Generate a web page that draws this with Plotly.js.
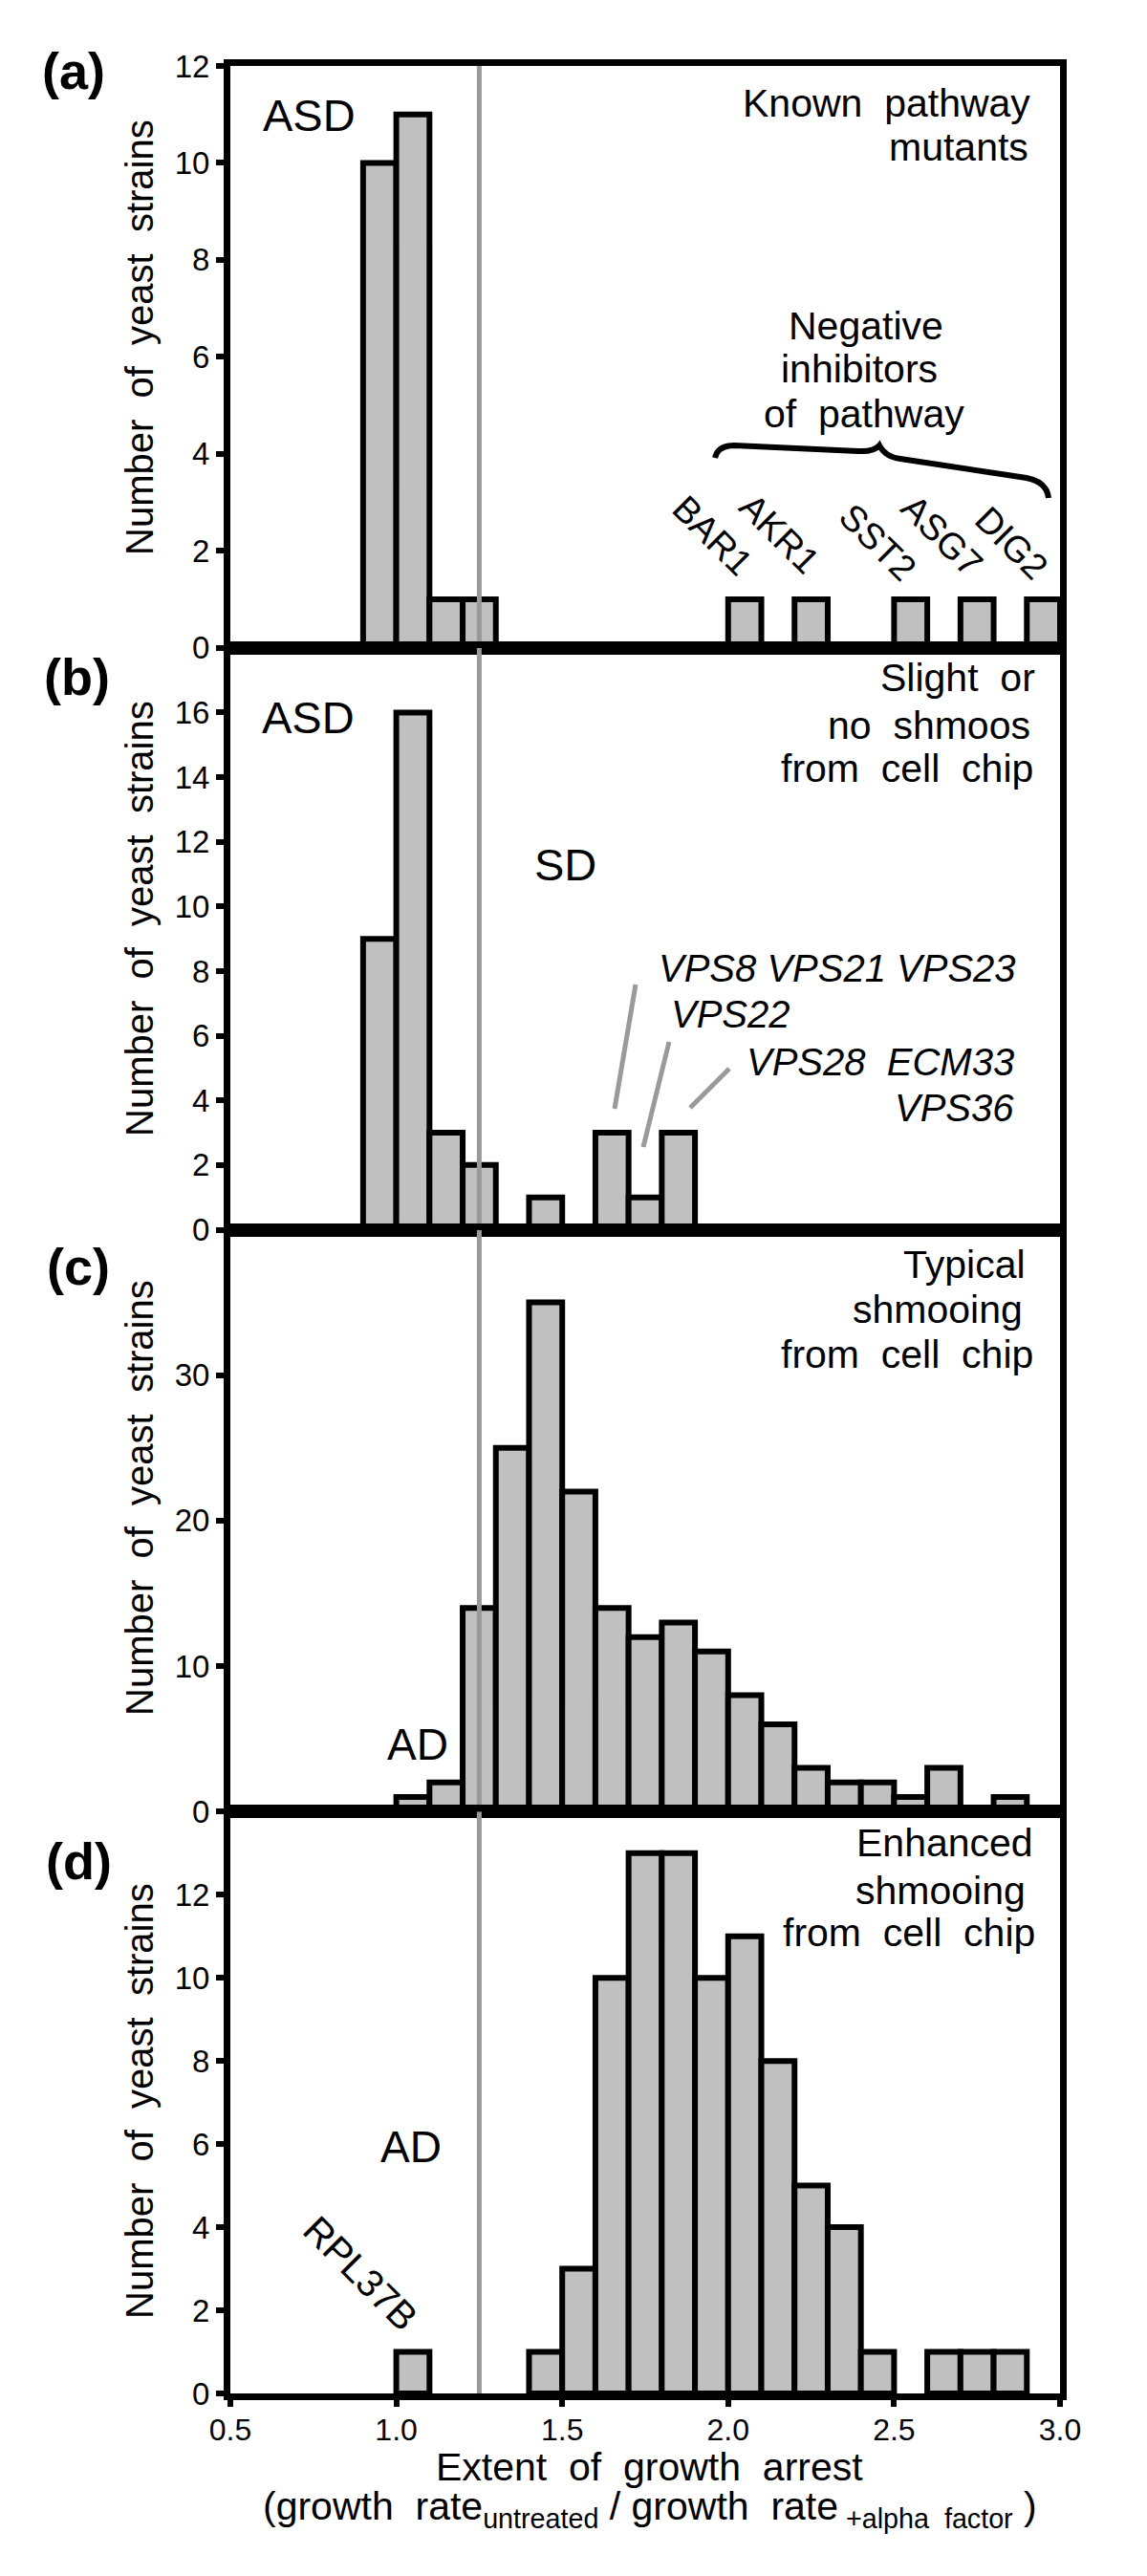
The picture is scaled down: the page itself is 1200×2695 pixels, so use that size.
<!DOCTYPE html>
<html>
<head>
<meta charset="utf-8">
<script src="https://cdn.plot.ly/plotly-3.0.1.min.js"></script>
<style>
  html, body { margin: 0; padding: 0; background: #fff; }
  #chart { width: 1200px; height: 2695px; }
</style>
</head>
<body>
<div id="chart"></div>
<script>
// ---------------- DATA ----------------
// left edges of the 0.1-wide bins of "extent of growth arrest"
const binStarts = [0.9, 1.0, 1.1, 1.2, 1.3, 1.4, 1.5, 1.6, 1.7, 1.8, 1.9,
                   2.0, 2.1, 2.2, 2.3, 2.4, 2.5, 2.6, 2.7, 2.8, 2.9];
const binWidth = 0.1;

// (a) Known pathway mutants
const countsA = [10, 11, 1, 1, 0, 0, 0, 0, 0, 0, 0, 1, 0, 1, 0, 0, 1, 0, 1, 0, 1];
// (b) Slight or no shmoos from cell chip
const countsB = [9, 16, 3, 2, 0, 1, 0, 3, 1, 3, 0, 0, 0, 0, 0, 0, 0, 0, 0, 0, 0];
// (c) Typical shmooing from cell chip
const countsC = [0, 1, 2, 14, 25, 35, 22, 14, 12, 13, 11, 8, 6, 3, 2, 2, 1, 3, 0, 1, 0];
// (d) Enhanced shmooing from cell chip
const countsD = [0, 1, 0, 0, 0, 1, 3, 10, 13, 13, 10, 11, 8, 5, 4, 1, 0, 1, 1, 1, 0];

const thresholdX = 1.25;          // grey reference line

const xTickVals   = [0.5, 1.0, 1.5, 2.0, 2.5, 3.0];
const xTickLabels = ['0.5', '1.0', '1.5', '2.0', '2.5', '3.0'];

const yRangeA = [0, 12], yTicksA = [0, 2, 4, 6, 8, 10, 12];
const yRangeB = [0, 18], yTicksB = [0, 2, 4, 6, 8, 10, 12, 14, 16];
const yRangeC = [0, 40], yTicksC = [0, 10, 20, 30];
const yRangeD = [0, 14], yTicksD = [0, 2, 4, 6, 8, 10, 12];

const panelLabels = ['(a)', '(b)', '(c)', '(d)'];
const geneLabelsA = ['BAR1', 'AKR1', 'SST2', 'ASG7', 'DIG2'];

// ---------------- STYLE / LAYOUT ----------------
const FONT = 'Liberation Sans, Arial, Helvetica, sans-serif';
const W = 1200, H = 2695;
const M = { l: 241, r: 91, t: 69, b: 191 };
const PW = W - M.l - M.r, PH = H - M.t - M.b;
const px2x = px => (px - M.l) / PW;
const px2y = py => (H - M.b - py) / PH;

const panels = [
  { counts: countsA, xa: 'x',  ya: 'y',  range: yRangeA, ticks: yTicksA, dom: [0.75, 1] },
  { counts: countsB, xa: 'x2', ya: 'y2', range: yRangeB, ticks: yTicksB, dom: [0.5, 0.75] },
  { counts: countsC, xa: 'x3', ya: 'y3', range: yRangeC, ticks: yTicksC, dom: [0.25, 0.5] },
  { counts: countsD, xa: 'x4', ya: 'y4', range: yRangeD, ticks: yTicksD, dom: [0, 0.25] }
];

const traces = [];
panels.forEach(p => {
  const xs = [], ys = [];
  binStarts.forEach((b, i) => {
    if (p.counts[i] > 0) { xs.push(b + binWidth / 2); ys.push(p.counts[i]); }
  });
  traces.push({
    type: 'bar', x: xs, y: ys, width: binWidth,
    xaxis: p.xa, yaxis: p.ya,
    marker: { color: '#c0c0c0', line: { color: '#000', width: 6 } },
    hoverinfo: 'skip', showlegend: false
  });
});
panels.forEach(p => {
  traces.push({
    type: 'scatter', mode: 'lines',
    x: [thresholdX, thresholdX], y: [p.range[0], p.range[1]],
    xaxis: p.xa, yaxis: p.ya,
    line: { color: '#9a9a9a', width: 5 },
    hoverinfo: 'skip', showlegend: false
  });
});

const layout = {
  width: W, height: H,
  margin: M,
  paper_bgcolor: '#fff', plot_bgcolor: '#fff',
  font: { family: FONT, color: '#000', size: 33 },
  showlegend: false,
  bargap: 0,
  annotations: [],
  shapes: []
};

panels.forEach((p, i) => {
  const xk = i === 0 ? 'xaxis' : 'xaxis' + (i + 1);
  const yk = i === 0 ? 'yaxis' : 'yaxis' + (i + 1);
  const isBottom = i === 3;
  layout[xk] = {
    domain: [0, 1], anchor: p.ya, range: [0.5, 3.0],
    showline: true, mirror: true, linecolor: '#000', linewidth: 7,
    showgrid: false, zeroline: false, fixedrange: true,
    ticks: isBottom ? 'outside' : '', ticklen: 7, tickwidth: 6, tickcolor: '#000',
    tickvals: xTickVals, ticktext: xTickLabels,
    showticklabels: isBottom,
    ticklabelstandoff: -3,
    tickfont: { family: FONT, size: 32, color: '#000' }
  };
  layout[yk] = {
    domain: p.dom, anchor: p.xa, range: p.range,
    showline: true, mirror: true, linecolor: '#000', linewidth: 7,
    showgrid: false, zeroline: false, fixedrange: true,
    ticks: 'outside', ticklen: 8, tickwidth: 6, tickcolor: '#000',
    tickvals: p.ticks,
    tickfont: { family: FONT, size: 33, color: '#000' }
  };
});

// text helpers (positions in page pixels -> paper coords)
function txt(text, px, baseline, size, xanchor, extra) {
  return Object.assign({
    xref: 'paper', yref: 'paper',
    x: px2x(px), y: px2y(baseline - 0.35 * size),
    text: text, showarrow: false,
    xanchor: xanchor, yanchor: 'middle',
    align: xanchor === 'right' ? 'right' : (xanchor === 'left' ? 'left' : 'center'),
    font: { family: FONT, size: size, color: '#000' }
  }, extra || {});
}
function ctr(text, px, py, size, angle, extra) {
  return Object.assign({
    xref: 'paper', yref: 'paper',
    x: px2x(px), y: px2y(py),
    text: text, showarrow: false,
    xanchor: 'center', yanchor: 'middle', textangle: angle || 0,
    font: { family: FONT, size: size, color: '#000' }
  }, extra || {});
}
const S = '\u00A0 ';   // wide word gap

const A = layout.annotations;
// panel letters
[[77, 74], [80, 708], [82, 1325], [82, 1947]].forEach((c, i) => {
  A.push(ctr('<b>' + panelLabels[i] + '</b>', c[0], c[1], 54, 0));
});
// y titles
[353, 961, 1567, 2198].forEach(cy => {
  A.push(ctr('Number' + S + 'of' + S + 'yeast' + S + 'strains', 146, cy, 40, -90));
});
// x title
A.push(txt('Extent' + S + 'of' + S + 'growth' + S + 'arrest', 679, 2595, 41, 'center'));
A.push(txt('(growth' + S + 'rate<sub>untreated</sub> / growth' + S + 'rate<sub>\u00A0+alpha' + S + 'factor</sub>\u00A0)',
           680, 2639, 41, 'center'));

// panel (a)
A.push(txt('ASD', 273, 137, 47, 'left'));
A.push(txt('Known' + S + 'pathway', 1080, 122, 41, 'right'));
A.push(txt('mutants', 1078, 168, 41, 'right'));
A.push(txt('Negative', 906, 355, 41, 'center'));
A.push(txt('inhibitors', 899, 400, 41, 'center'));
A.push(txt('of' + S + 'pathway', 904, 447, 41, 'center'));
[[745, 560], [815, 558], [918, 567], [985, 560], [1058, 568]].forEach((c, i) => {
  A.push(ctr(geneLabelsA[i], c[0], c[1], 38, 45));
});

// panel (b)
A.push(txt('ASD', 272, 767, 47, 'left'));
A.push(txt('Slight' + S + 'or', 1085, 723, 41, 'right'));
A.push(txt('no' + S + 'shmoos', 1080, 773, 41, 'right'));
A.push(txt('from' + S + 'cell' + S + 'chip', 1083, 818, 41, 'right'));
A.push(txt('SD', 591, 921, 47, 'center'));
A.push(txt('<i>VPS8 VPS21 VPS23</i>', 1065, 1027, 40, 'right'));
A.push(txt('<i>VPS22</i>', 700, 1075, 40, 'left'));
A.push(txt('<i>VPS28' + S + 'ECM33</i>', 1063, 1125, 40, 'right'));
A.push(txt('<i>VPS36</i>', 1063, 1173, 40, 'right'));

// panel (c)
A.push(txt('Typical', 1075, 1337, 41, 'right'));
A.push(txt('shmooing', 1072, 1384, 41, 'right'));
A.push(txt('from' + S + 'cell' + S + 'chip', 1083, 1431, 41, 'right'));
A.push(txt('AD', 437, 1841, 46, 'center'));

// panel (d)
A.push(txt('Enhanced', 1083, 1942, 41, 'right'));
A.push(txt('shmooing', 1075, 1992, 41, 'right'));
A.push(txt('from' + S + 'cell' + S + 'chip', 1085, 2036, 41, 'right'));
A.push(txt('AD', 430, 2262, 46, 'center'));
A.push(ctr('RPL37B', 377, 2378, 40, 45));

// leader lines in (b)
[[665, 1030, 643, 1160], [700, 1090, 673, 1200], [763, 1118, 722, 1159]].forEach(l => {
  layout.shapes.push({
    type: 'line', xref: 'paper', yref: 'paper',
    x0: px2x(l[0]), y0: px2y(l[1]), x1: px2x(l[2]), y1: px2y(l[3]),
    line: { color: '#9a9a9a', width: 5 }, layer: 'above'
  });
});

// curly brace in (a)
function P(x, y) { return px2x(x).toFixed(5) + ',' + px2y(y).toFixed(5); }
const bracePath =
  'M' + P(748, 479) +
  ' Q' + P(751, 466) + ' ' + P(768, 466) +
  ' L' + P(898, 472) +
  ' Q' + P(914, 473) + ' ' + P(920, 466) +
  ' Q' + P(926, 478) + ' ' + P(942, 480) +
  ' L' + P(1074, 500) +
  ' Q' + P(1095, 504) + ' ' + P(1097, 521);
layout.shapes.push({
  type: 'path', xref: 'paper', yref: 'paper', path: bracePath,
  line: { color: '#000', width: 6 }, fillcolor: 'rgba(0,0,0,0)', layer: 'above'
});

Plotly.newPlot('chart', traces, layout, { staticPlot: true, displayModeBar: false });
</script>
</body>
</html>
